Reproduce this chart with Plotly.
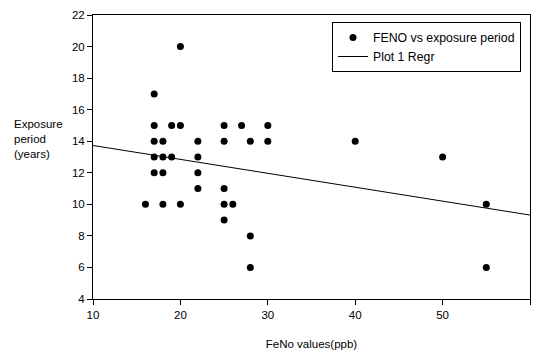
import plotly.graph_objects as go

feno = [16, 17, 17, 17, 17, 17, 18, 18, 18, 18, 19, 19, 20, 20, 20,
        22, 22, 22, 22, 25, 25, 25, 25, 25, 26, 27, 28, 28, 28, 30, 30,
        40, 50, 55, 55]
exposure = [10, 17, 15, 14, 13, 12, 14, 13, 12, 10, 15, 13, 20, 15, 10,
            14, 13, 12, 11, 15, 14, 11, 10, 9, 10, 15, 14, 8, 6, 15, 14,
            14, 13, 10, 6]
x_ticks = [10, 20, 30, 40, 50, 60]
y_ticks = [4, 6, 8, 10, 12, 14, 16, 18, 20, 22]

# regression line (value at x=10 and x=60)
regr_x = [10, 60]
regr_y = [13.73, 9.32]

fig = go.Figure()
fig.add_trace(go.Scatter(x=feno, y=exposure, mode="markers",
                         marker=dict(color="black", size=7),
                         name="FENO vs exposure period", cliponaxis=False))
fig.add_trace(go.Scatter(x=regr_x, y=regr_y, mode="lines",
                         line=dict(color="black", width=1),
                         name="Plot 1 Regr"))

W, H = 535, 350
L, R, T, B = 93, 5, 15, 51
pw = W - L - R
ph = H - T - B

fig.update_layout(
    width=W, height=H,
    margin=dict(l=L, r=R, t=T, b=B, autoexpand=False),
    paper_bgcolor="white", plot_bgcolor="white",
    font=dict(family="Liberation Sans, Arial, sans-serif", size=11.5, color="black"),
    showlegend=True,
    legend=dict(x=1 - (530 - 521) / pw, y=1 - (22 - T) / ph, xanchor="right", yanchor="top",
                bordercolor="black", borderwidth=1, bgcolor="white",
                font=dict(size=12.3), tracegroupgap=0),
    xaxis=dict(range=[10, 60], tickvals=x_ticks, showgrid=False, zeroline=False,
               showline=True, linecolor="black", linewidth=1, mirror=True,
               ticks="outside", ticklen=5, tickcolor="black", automargin=False,
               title=dict(text="FeNo values(ppb)", standoff=20, font=dict(size=11.5))),
    yaxis=dict(range=[4, 22], tickvals=y_ticks, showgrid=False, zeroline=False,
               showline=True, linecolor="black", linewidth=1, mirror=True,
               ticks="outside", ticklen=5, tickcolor="black", automargin=False),
    annotations=[dict(text="Exposure<br>period<br>(years)", xref="paper", yref="paper",
                      x=(12 - L) / pw, y=1 - (116 - T) / ph, xanchor="left", yanchor="top",
                      align="left", showarrow=False, font=dict(size=11.5))],
)

fig.write_html("out.html", config={"displayModeBar": False},
               post_script="document.body.style.margin='0';")
